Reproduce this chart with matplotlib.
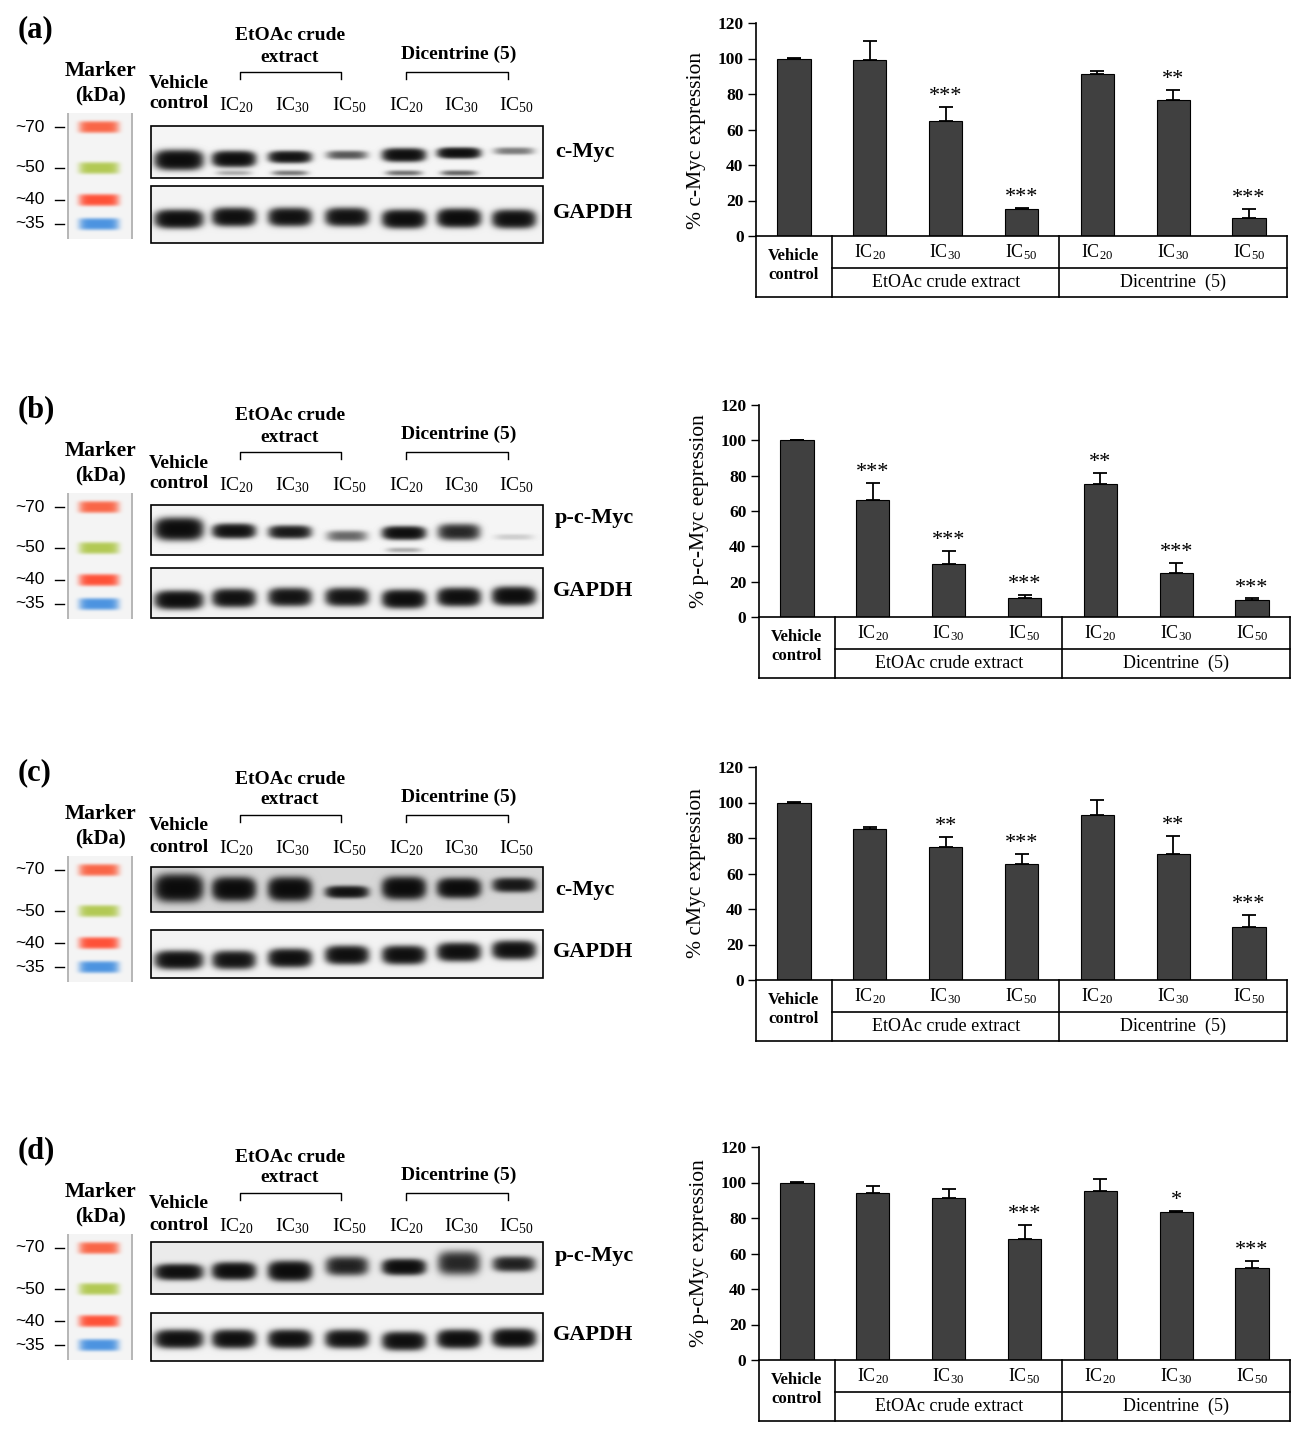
import numpy as np
import matplotlib.pyplot as plt
from matplotlib.patches import Rectangle

plt.rcParams.update({
    "font.family": "Liberation Serif",
    "mathtext.fontset": "custom",
    "mathtext.rm": "Liberation Serif",
    "mathtext.it": "Liberation Serif:italic",
    "mathtext.bf": "Liberation Serif:bold",
})

W, H = 1302, 1430

# ---------------------------------------------------------------------------
# Data
# ---------------------------------------------------------------------------
panel_tags = ["(a)", "(b)", "(c)", "(d)"]
targets = ["c-Myc", "p-c-Myc", "c-Myc", "p-c-Myc"]
ylabels = ["% c-Myc expression", "% p-c-Myc eepression",
           "% cMyc expression", "% p-cMyc expression"]
ic_labels = [r"IC$_{20}$", r"IC$_{30}$", r"IC$_{50}$"] * 2
groups = ["EtOAc crude extract", "Dicentrine  (5)"]
marker_kda = ["~70", "~50", "~40", "~35"]
marker_colors = [(0.98, 0.40, 0.28), (0.70, 0.79, 0.33),
                 (1.00, 0.32, 0.22), (0.30, 0.58, 0.88)]

# bar values (% of vehicle control), upper error, significance
expr_a = [100, 99, 65, 15, 91.5, 76.5, 10]
err_a = [0.3, 11, 7.5, 0.8, 1.5, 6, 5]
stars_a = ["", "", "***", "***", "", "**", "***"]

expr_b = [100, 66, 30, 11, 75.5, 25, 9.5]
err_b = [0.2, 10, 7.5, 1.5, 6, 5.5, 1]
stars_b = ["", "***", "***", "***", "**", "***", "***"]

expr_c = [100, 85, 75, 65.5, 93, 71, 30]
err_c = [0.3, 1.2, 5.5, 5.5, 8.5, 10, 6.5]
stars_c = ["", "", "**", "***", "", "**", "***"]

expr_d = [100, 94, 91.5, 68, 95, 83.5, 52]
err_d = [0.3, 4, 5, 8, 7, 0.7, 4]
stars_d = ["", "", "", "***", "", "*", "***"]

# blot bands: strength (0-1), centre (px from membrane top), half-height (px)
myc_a = [1.0, 0.95, 0.8, 0.3, 0.9, 0.9, 0.2]
myc_a_y = [34, 33, 31, 29, 29, 27, 25]
myc_a_h = [8, 6.5, 5, 4, 5.5, 4.5, 3.5]
myc_a_low = [0, 0.1, 0.2, 0, 0.22, 0.25, 0]
gapdh_a = [0.95, 0.9, 0.85, 0.85, 0.95, 1.0, 0.9]
gapdh_a_y = [33, 31, 31, 31, 33, 32, 33]

myc_b = [1.0, 0.85, 0.7, 0.25, 0.9, 0.55, 0.05]
myc_b_y = [24, 26, 27, 31, 28, 27, 32]
myc_b_h = [9, 6, 5.5, 5, 5.5, 7, 3]
myc_b_low = [0, 0, 0, 0, 0.1, 0, 0]
gapdh_b = [0.95, 0.85, 0.8, 0.8, 0.95, 0.9, 0.95]
gapdh_b_y = [32, 30, 29, 29, 31, 29, 28]

myc_c = [1.0, 1.0, 1.0, 0.8, 1.0, 1.0, 0.7]
myc_c_y = [21, 22, 22, 25, 21, 21, 18]
myc_c_h = [11, 9.5, 9.5, 5, 9, 8, 6]
myc_c_low = [0] * 7
gapdh_c = [0.9, 0.8, 0.9, 0.9, 0.9, 0.9, 0.9]
gapdh_c_y = [30, 30, 28, 25, 25, 22, 20]

myc_d = [0.9, 0.95, 1.0, 0.6, 0.95, 0.55, 0.6]
myc_d_y = [30, 29, 29, 24, 25, 21, 22]
myc_d_h = [6.5, 7, 8, 8, 6.5, 10, 6.5]
myc_d_low = [0] * 7
gapdh_d = [0.9, 0.9, 0.9, 0.85, 0.9, 0.95, 0.95]
gapdh_d_y = [26, 26, 26, 26, 28, 26, 25]

expr_all = [expr_a, expr_b, expr_c, expr_d]
err_all = [err_a, err_b, err_c, err_d]
stars_all = [stars_a, stars_b, stars_c, stars_d]
blots = [
    (myc_a, myc_a_y, myc_a_h, myc_a_low, gapdh_a, gapdh_a_y, 0.96),
    (myc_b, myc_b_y, myc_b_h, myc_b_low, gapdh_b, gapdh_b_y, 0.96),
    (myc_c, myc_c_y, myc_c_h, myc_c_low, gapdh_c, gapdh_c_y, 0.84),
    (myc_d, myc_d_y, myc_d_h, myc_d_low, gapdh_d, gapdh_d_y, 0.92),
]

# ---------------------------------------------------------------------------
# Layout (pixels)
# ---------------------------------------------------------------------------
row_off = [0, 380, 743, 1121]
box1 = [(126, 178), (125, 175), (124, 169), (121, 173)]
box2 = [(186, 243), (188, 238), (187, 235), (192, 240)]
chart_px = [(756, 1287, 23, 236), (759, 1290, 405, 617),
            (756, 1287, 767, 980), (759, 1290, 1147, 1360)]
label_y = [0.45, 0.5, 0.5, 0.5]
lane_x = [179, 234, 290, 347, 404, 459, 514]
blot_x0, blot_x1 = 151, 543
lane_l, lane_r, lane_t, lane_b = 67, 133, 113, 239
marker_y = [127, 168, 200, 224]

fig = plt.figure(figsize=(W / 100, H / 100), dpi=100)
ov = fig.add_axes([0, 0, 1, 1], zorder=0)
ov.axis("off")


def blot_image(width, height, inten, yc, hh, bg, low=None, low_y=None, gh=None):
    xx = np.arange(width)[None, :] + 0.5
    yy = np.arange(height)[:, None] + 0.5
    dark = np.zeros((height, width))
    for i, (a, y0) in enumerate(zip(inten, yc)):
        x0 = lane_x[i] - blot_x0
        hw = 21 if i == 0 else 19
        h = hh[i] if gh is None else gh
        dark += a * np.exp(-(np.abs(xx - x0) / hw) ** 4) * np.exp(-(np.abs(yy - y0) / h) ** 2.5)
        if low is not None and low[i] > 0:
            dark += low[i] * np.exp(-(np.abs(xx - x0) / 17) ** 4) * np.exp(-((yy - low_y) / 2.5) ** 2)
    return bg - (bg - 0.02) * (1 - np.exp(-3.5 * dark))


def marker_image(width, height):
    img = np.ones((height, width, 3)) * 0.96
    img[:, :2] = 0.72
    img[:, -2:] = 0.72
    xx = np.arange(width)[None, :] + 0.5
    yy = np.arange(height)[:, None] + 0.5
    for col, yb in zip(marker_colors, marker_y):
        yr = yb - lane_t
        alpha = np.exp(-(np.abs(xx - 32) / 20) ** 6) * np.exp(-(np.abs(yy - yr) / 6) ** 4)
        for k in range(3):
            img[:, :, k] = img[:, :, k] * (1 - alpha) + col[k] * alpha
    return img


for r in range(4):
    o = row_off[r]
    ov.text(18, o + 30, panel_tags[r], fontsize=22, fontweight="bold", va="center")
    ov.text(290, o + 36, "EtOAc crude", fontsize=14, fontweight="bold", ha="center", va="center")
    ov.text(290, o + 57, "extract", fontsize=14, fontweight="bold", ha="center", va="center")
    ov.text(459, o + 54, "Dicentrine (5)", fontsize=14, fontweight="bold", ha="center", va="center")
    for xa, xb in [(240, 341), (406, 508)]:
        ov.plot([xa, xa, xb, xb], [o + 79, o + 72, o + 72, o + 79], color="black", lw=1)
    ov.text(101, o + 71, "Marker", fontsize=15.5, fontweight="bold", ha="center", va="center")
    ov.text(101, o + 95, "(kDa)", fontsize=15, fontweight="bold", ha="center", va="center")
    ov.text(179, o + 83, "Vehicle", fontsize=14, fontweight="bold", ha="center", va="center")
    ov.text(179, o + 104, "control", fontsize=14, fontweight="bold", ha="center", va="center")
    for lx, lab in zip(lane_x[1:], ic_labels):
        ov.text(lx + 2, o + 110, lab, fontsize=14, ha="center", va="baseline")

    # marker lane
    ov.imshow(marker_image(lane_r - lane_l, lane_b - lane_t),
              extent=(lane_l, lane_r, o + lane_b, o + lane_t),
              aspect="auto", interpolation="bilinear", zorder=1)
    for lab, yb in zip(marker_kda, marker_y):
        ov.text(45, o + yb, lab, fontsize=12.5, family="Liberation Sans", ha="right", va="center")
        ov.plot([55, 64], [o + yb, o + yb], color="black", lw=1)

    inten, yc, hh, low, g_int, g_y, bg = blots[r]
    t1, b1 = box1[r]
    t2, b2 = box2[r]
    img1 = blot_image(blot_x1 - blot_x0, b1 - t1, inten, yc, hh, bg, low, (b1 - t1) - 5)
    img2 = blot_image(blot_x1 - blot_x0, b2 - t2, g_int, g_y, None, 0.95, gh=7.5)
    for img, t, b in [(img1, t1, b1), (img2, t2, b2)]:
        ov.imshow(img, cmap="gray", vmin=0, vmax=1, extent=(blot_x0, blot_x1, o + b, o + t),
                  aspect="auto", interpolation="bilinear", zorder=1)
        ov.add_patch(Rectangle((blot_x0, o + t), blot_x1 - blot_x0, b - t,
                               fill=False, ec="black", lw=1.2, zorder=2))
    ov.text(555, o + (t1 + b1) / 2 - (12 if targets[r].startswith("p") else 0), targets[r],
            fontsize=16, fontweight="bold", va="center")
    ov.text(553, o + (t2 + b2) / 2 - 2, "GAPDH", fontsize=16, fontweight="bold", va="center")

ov.set_xlim(0, W)
ov.set_ylim(H, 0)

# ---------------------------------------------------------------------------
# Bar charts
# ---------------------------------------------------------------------------
for r in range(4):
    x0, x1, ytop, ybot = chart_px[r]
    ax = fig.add_axes([x0 / W, 1 - ybot / H, (x1 - x0) / W, (ybot - ytop) / H], zorder=2)
    x = np.arange(7)
    vals, errs, stars = expr_all[r], err_all[r], stars_all[r]
    ax.bar(x, vals, width=0.44, color="#404040", edgecolor="black", linewidth=0.8, zorder=2)
    ax.errorbar(x, vals, yerr=[np.zeros(7), errs], fmt="none", ecolor="black",
                elinewidth=1.3, capsize=5, capthick=1.3, zorder=3)
    for xi, v, e, s in zip(x, vals, errs, stars):
        if s:
            ax.text(xi, v + e + 0.5, s, ha="center", va="bottom", fontsize=16)
    ax.set_xlim(-0.5, 6.5)
    ax.set_ylim(0, 120)
    ax.set_yticks(range(0, 121, 20))
    ax.set_xticks([])
    for lab in ax.get_yticklabels():
        lab.set_fontweight("bold")
    ax.tick_params(axis="y", direction="out", length=6, width=1, labelsize=12.5, pad=3)
    for sp in ["top", "right"]:
        ax.spines[sp].set_visible(False)
    ax.spines["left"].set_linewidth(1.2)
    ax.spines["bottom"].set_linewidth(1.2)
    ax.set_ylabel(ylabels[r], fontsize=15.5)
    ax.yaxis.set_label_coords(-0.095, label_y[r])

    # category table under the axis
    hpx = ybot - ytop
    y_mid = -32 / hpx
    y_bot = -61 / hpx
    tr = ax.get_xaxis_transform()
    kw = dict(transform=tr, color="black", lw=1.2, clip_on=False)
    for xv in [-0.5, 0.5, 3.5, 6.5]:
        ax.plot([xv, xv], [0, y_bot], **kw)
    ax.plot([-0.5, 6.5], [y_bot, y_bot], **kw)
    ax.plot([0.5, 6.5], [y_mid, y_mid], **kw)
    ax.text(0, y_bot / 2 + 0.005, "Vehicle\ncontrol", transform=tr, ha="center", va="center",
            fontsize=12, fontweight="bold", linespacing=1.25)
    for xi, lab in zip(x[1:], ic_labels):
        ax.text(xi, y_mid / 2, lab, transform=tr, ha="center", va="center", fontsize=13)
    for xc, g in zip([2, 5], groups):
        ax.text(xc, (y_mid + y_bot) / 2, g, transform=tr, ha="center", va="center", fontsize=13)

fig.savefig("out.png", dpi=100)
